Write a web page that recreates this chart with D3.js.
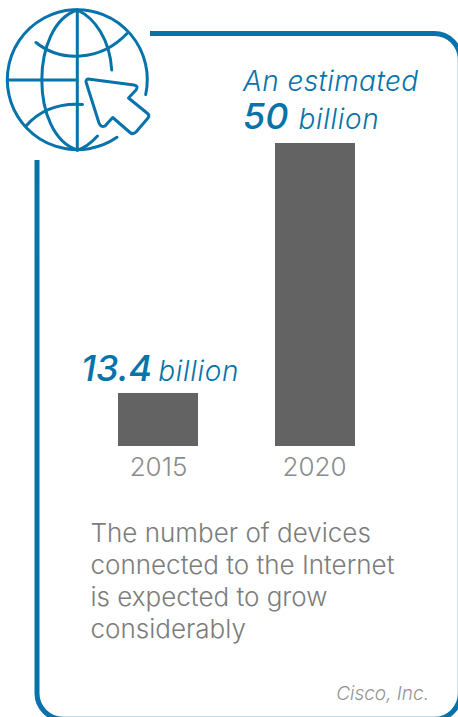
<!DOCTYPE html>
<html>
<head>
<meta charset="utf-8">
<script src="https://cdn.jsdelivr.net/npm/d3@7"></script>
<style>
  html, body { margin: 0; padding: 0; background: #fff; overflow: hidden; }
  svg { display: block; }
  text { font-family: Inter, Lato, sans-serif; }
</style>
</head>
<body>
<svg id="chart" width="458" height="717"></svg>
<script>
const categories = ["2015", "2020"];
// bar heights as drawn in the picture: the 2015 bar is shorter than its 13.4 label implies
const barValues = [8.75, 50];
const bigLabels = ["13.4", "50"];
const captionLines = [
  "The number of devices",
  "connected to the Internet",
  "is expected to grow",
  "considerably"
];

const BLUE = "#0673aa";
const svg = d3.select("#chart");

// frame, open at the top left; right and bottom sides run off the page edge
svg.append("path")
  .attr("d", "M150,33.5 H434 A26,26 0 0 1 460.3,59.5 V693 A26,26 0 0 1 434,719.3 H63 A26,26 0 0 1 37,693 V160")
  .attr("fill", "none")
  .attr("stroke", BLUE)
  .attr("stroke-width", 5);

// chart
const xPos = d3.scalePoint().domain(categories).range([158, 314]);
const y = d3.scaleLinear().domain([0, 50]).range([446, 143]);
const BAR_WIDTH = 80;

svg.selectAll(".bar")
  .data(categories)
  .join("rect")
  .attr("class", "bar")
  .attr("x", (d, i) => 118 + i * 157)
  .attr("width", BAR_WIDTH)
  .attr("y", (d, i) => y(barValues[i]))
  .attr("height", (d, i) => y(0) - y(barValues[i]))
  .attr("fill", "#636363");

const axis = svg.append("g")
  .attr("transform", "translate(0,446)")
  .call(d3.axisBottom(xPos).tickSize(0).tickPadding(12));
axis.select(".domain").remove();
axis.selectAll("text")
  .attr("font-size", 26)
  .attr("font-weight", 300)
  .attr("font-family", "Inter, sans-serif")
  .attr("fill", "#8c8c8c");

// value labels
function valueLabel(tx, ty, big, gap) {
  const t = svg.append("text")
    .attr("x", tx)
    .attr("y", ty)
    .attr("fill", BLUE)
    .attr("font-style", "italic");
  t.append("tspan").attr("font-size", 36).attr("font-weight", 500).text(big);
  t.append("tspan").attr("font-size", 28).attr("font-weight", 300)
    .attr("letter-spacing", 0.7).attr("dx", gap).text("billion");
}
valueLabel(81, 381, bigLabels[0], 6);
valueLabel(243, 129, bigLabels[1], 10);

svg.append("text")
  .attr("x", 243)
  .attr("y", 91)
  .attr("fill", BLUE)
  .attr("font-size", 28)
  .attr("font-weight", 300)
  .attr("letter-spacing", 0.4)
  .attr("font-style", "italic")
  .text("An estimated");

// caption
svg.selectAll(".caption")
  .data(captionLines)
  .join("text")
  .attr("class", "caption")
  .attr("x", 90.5)
  .attr("y", (d, i) => 542 + i * 32)
  .attr("font-size", 26)
  .attr("font-weight", 300)
  .attr("fill", "#7c7c7c")
  .text((d) => d);

svg.append("text")
  .attr("x", 429)
  .attr("y", 700)
  .attr("text-anchor", "end")
  .attr("font-size", 19)
  .attr("font-weight", 300)
  .attr("font-style", "italic")
  .attr("fill", "#949494")
  .text("Cisco, Inc.");

// globe + cursor icon
const icon = svg.append("g")
  .attr("fill", "none")
  .attr("stroke", BLUE)
  .attr("stroke-width", 3)
  .attr("stroke-linecap", "round")
  .attr("stroke-linejoin", "round");

[
  "M117,137.3 A70,70 0 1 1 145.7,94.5",
  "M77.3,10 V150",
  "M8,80 H77",
  "M77.3,10 C30,25 30,135 77.3,150",
  "M77.3,10 C95,18 110,40 111.7,70",
  "M77.3,150 C85,148 92,142 97.5,136",
  "M36,42.5 C60,62 100,62 127,33.5",
  "M26,126 C40,110 60,103 82.5,104.5",
  "M88,79 Q85,80 86.5,83.5 L99,123 Q101,128 105,126 L112.7,117.5 L130,132.5 Q133,135 136,132 L148,118 Q150,115 147,113 L128.5,98 L136,90 Q139,86 134,85 Z"
].forEach((d) => icon.append("path").attr("d", d));
</script>
</body>
</html>
